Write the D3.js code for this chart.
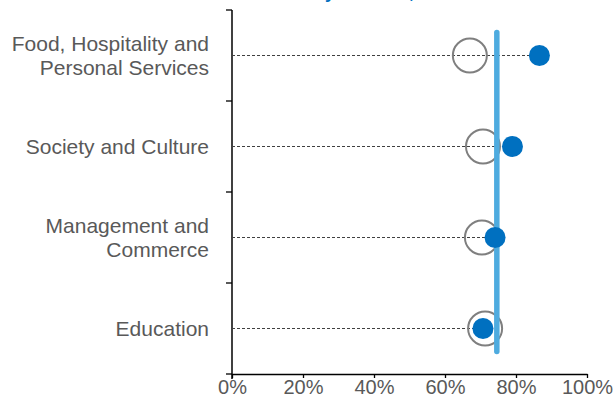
<!DOCTYPE html>
<html>
<head>
<meta charset="utf-8">
<script src="https://cdn.jsdelivr.net/npm/d3@7"></script>
<style>
  body { margin: 0; background: #fff; }
  text { font-family: "Liberation Sans", Arial, sans-serif; }
</style>
</head>
<body>
<div id="chart"></div>
<script>
// data
let categories = [
    ["Food, Hospitality and", "Personal Services"],
    ["Society and Culture"],
    ["Management and", "Commerce"],
    ["Education"]
]
let currentValues = [0.866, 0.790, 0.741, 0.707]   // filled dots
let previousValues = [0.670, 0.707, 0.704, 0.713]  // open rings
let averageValue = 0.746                           // vertical line
let xTicks = [0, 0.2, 0.4, 0.6, 0.8, 1]
let titleText = "Student satisfaction by the field, 2021"

var margin = { top: 10, right: 29, bottom: 35, left: 232 },
    width = 616 - margin.left - margin.right,
    height = 409 - margin.top - margin.bottom

let svg = d3.select("#chart")
    .append("svg")
    .attr("width", 616)
    .attr("height", 409)
    .style("display", "block")

// title sits above the visible area, only its descenders show
let title = svg.append("text")
    .attr("y", -2.5)
    .attr("fill", "#0070C0")
    .style("font-size", "18px")
    .style("font-weight", "bold")
    .text(titleText)
let probe = svg.append("text")
    .style("font-size", "18px")
    .style("font-weight", "bold")
    .text("Student satisfaction b")
let pw = probe.node().getComputedTextLength()
probe.remove()
title.attr("x", 325 - pw)

let g = svg.append("g")
    .attr("transform", "translate(" + margin.left + "," + margin.top + ")")

var x = d3.scaleLinear().domain([0, 1]).range([0, width])
var y = d3.scaleBand().domain(d3.range(categories.length)).range([0, height])

// x axis
let xAxis = g.append("g")
    .attr("transform", "translate(0," + height + ")")
    .call(d3.axisBottom(x).tickValues(xTicks).tickFormat(d3.format(".0%")).tickSizeInner(4).tickSizeOuter(0))
xAxis.select(".domain").attr("stroke", "#000").attr("stroke-width", 1.5)
xAxis.selectAll(".tick line").attr("stroke", "#000").attr("stroke-width", 1.3)
xAxis.selectAll(".tick text")
    .attr("y", 6)
    .attr("fill", "#595959")
    .style("font-size", "20px")
    .style("font-family", "Liberation Sans, Arial, sans-serif")

// y axis (ticks between categories)
let yAxis = g.append("g")
    .call(d3.axisLeft(y).tickSize(0).tickFormat(""))
yAxis.select(".domain").attr("stroke", "#000").attr("stroke-width", 1.5)
yAxis.select(".domain").attr("d", "M0,0V" + (height + 5))
g.append("g").selectAll("line")
    .data(d3.range(categories.length + 1))
    .join("line")
    .attr("x1", -6).attr("x2", 0)
    .attr("y1", (d) => d * y.step())
    .attr("y2", (d) => d * y.step())
    .attr("stroke", "#000").attr("stroke-width", 1.3)

// category labels
let labels = g.append("g").selectAll("text")
    .data(categories)
    .join("text")
    .attr("text-anchor", "end")
    .attr("fill", "#595959")
    .style("font-size", "21px")
    .attr("transform", (d, i) => "translate(-23," + (y(i) + y.bandwidth() / 2) + ")")
labels.selectAll("tspan")
    .data((d) => d.map((t, j) => ({ t: t, j: j, n: d.length })))
    .join("tspan")
    .attr("x", 0)
    .attr("y", (d) => (d.j - (d.n - 1) / 2) * 24 + 7)
    .text((d) => d.t)

// dashed leader lines
g.append("g").selectAll("line")
    .data(currentValues)
    .join("line")
    .attr("x1", 0)
    .attr("x2", (d) => x(d))
    .attr("y1", (d, i) => y(i) + y.bandwidth() / 2)
    .attr("y2", (d, i) => y(i) + y.bandwidth() / 2)
    .attr("stroke", "#404040")
    .attr("stroke-width", 1)
    .attr("stroke-dasharray", "3,2")

// open rings
g.append("g").selectAll("circle")
    .data(previousValues)
    .join("circle")
    .attr("cx", (d) => x(d))
    .attr("cy", (d, i) => y(i) + y.bandwidth() / 2)
    .attr("r", 17)
    .attr("fill", "none")
    .attr("stroke", "#7F7F7F")
    .attr("stroke-width", 2)

// average line
g.append("line")
    .attr("x1", x(averageValue)).attr("x2", x(averageValue))
    .attr("y1", y(0) + y.bandwidth() / 2 - 23)
    .attr("y2", y(categories.length - 1) + y.bandwidth() / 2 + 23)
    .attr("stroke", "#4EABDF")
    .attr("stroke-width", 5.5)
    .attr("stroke-linecap", "round")

// filled dots
g.append("g").selectAll("circle")
    .data(currentValues)
    .join("circle")
    .attr("cx", (d) => x(d))
    .attr("cy", (d, i) => y(i) + y.bandwidth() / 2)
    .attr("r", 10.5)
    .attr("fill", "#0070C0")
</script>
</body>
</html>
